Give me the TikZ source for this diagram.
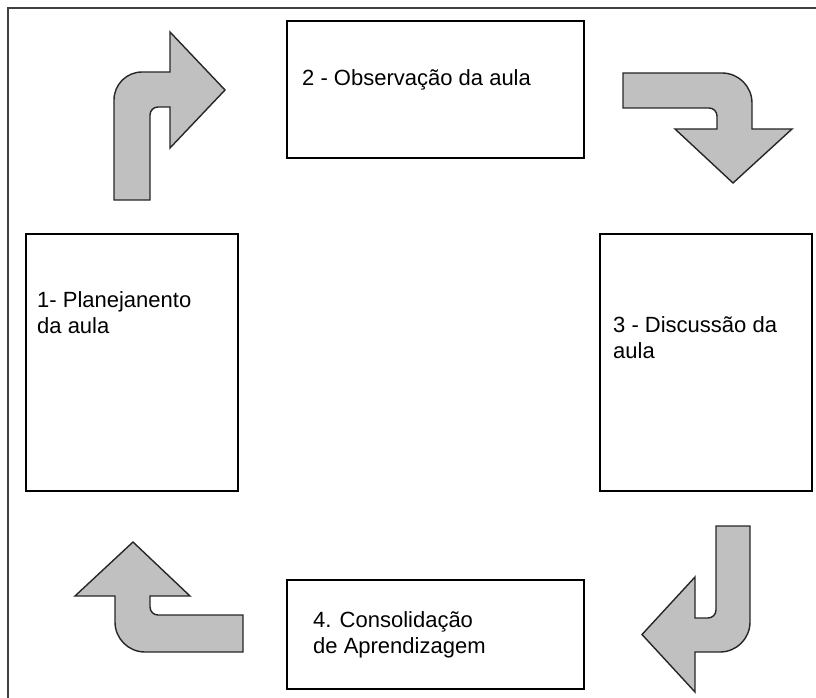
\documentclass[tikz,border=0pt]{standalone}
\usepackage{fontspec}
\setmainfont{Liberation Sans}
\begin{document}
\begin{tikzpicture}[x=1pt,y=-1pt,
  box/.style={draw=black,line width=1.4pt,rectangle,inner sep=0pt},
  lbl/.style={anchor=base west,inner sep=0pt,font=\fontsize{22}{26}\selectfont},
  bentarrow/.style={draw=black!85,line width=1.4pt,fill={rgb,255:red,192;green,192;blue,192},line join=miter}]
\useasboundingbox (0,0) rectangle (816,698);
\draw[line width=1.4pt,black!75] (8,698) -- (8,8) -- (820,8);
% boxes
\node[box,minimum width=297pt,minimum height=137pt] (b2) at (435.5,89.5) {};
\node[box,minimum width=212pt,minimum height=257pt] (b1) at (132,362.5) {};
\node[box,minimum width=212pt,minimum height=257pt] (b3) at (706,362.5) {};
\node[box,minimum width=297pt,minimum height=109pt] (b4) at (435.5,634.5) {};
% labels
\node[lbl] (t2) at (302,86) {2 - Observação da aula};
\node[lbl] (t1a) at (37,307) {1- Planejanento};
\node[lbl] (t1b) at (37,333) {da aula};
\node[lbl] (t3a) at (613,332) {3 - Discussão da};
\node[lbl] (t3b) at (613,358) {aula};
\node[lbl] (t4a) at (313,627) {4. Consolidação};
\node[lbl] (t4b) at (313,653) {de Aprendizagem};
% bent arrows
\draw[bentarrow] (114,200) -- (114,100) .. controls (114,84.5) and (126.5,72) .. (142,72) -- (170,72) -- (170,32) -- (225,90) -- (170,148) -- (170,107) -- (158,107) .. controls (153.6,107) and (150,110.6) .. (150,115) -- (150,200) -- cycle;
\draw[bentarrow] (623,73) -- (722,73) .. controls (738.6,73) and (752,86.4) .. (752,103) -- (752,129) -- (792,129) -- (733,183) -- (675,129) -- (717,129) -- (717,116) .. controls (717,111.6) and (713.4,108) .. (709,108) -- (623,108) -- cycle;
\draw[bentarrow] (716,526) -- (750,526) -- (750,622) .. controls (750,638.6) and (736.6,652) .. (720,652) -- (695,652) -- (695,692) -- (642,634.5) -- (695,577) -- (695,618) -- (708,618) .. controls (712.4,618) and (716,614.4) .. (716,610) -- cycle;
\draw[bentarrow] (243,615) -- (158,615) .. controls (153.6,615) and (150,611.4) .. (150,607) -- (150,596) -- (190,596) -- (133,542) -- (75,596) -- (115,596) -- (115,622) .. controls (115,638.6) and (128.4,652) .. (145,652) -- (243,652) -- cycle;
\end{tikzpicture}
\end{document}
